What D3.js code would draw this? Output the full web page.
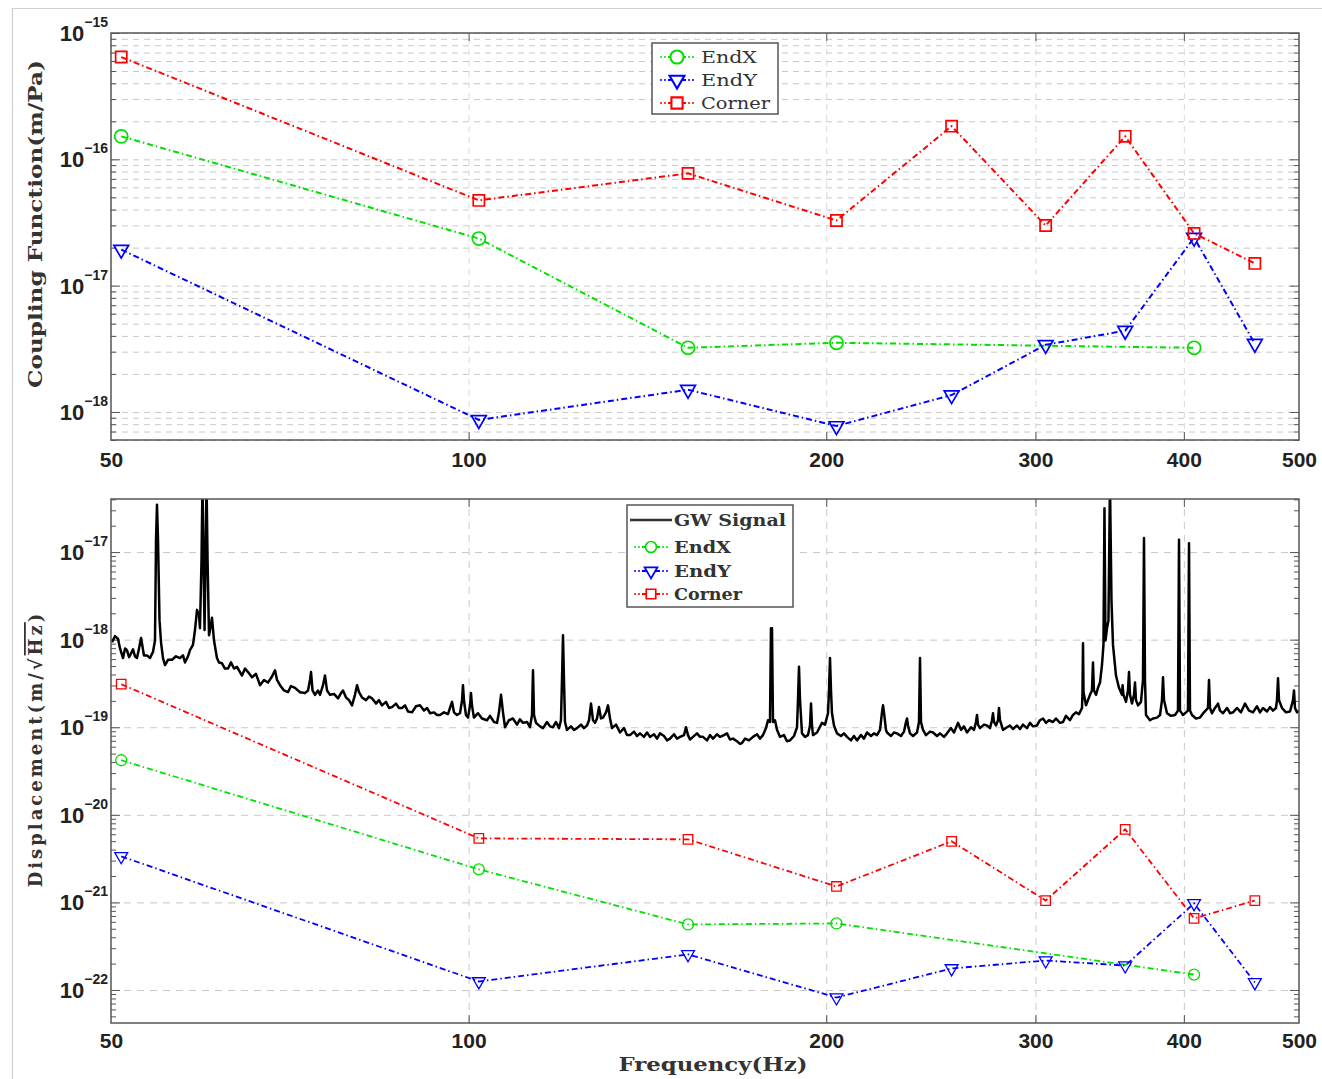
<!DOCTYPE html>
<html lang="en">
<head>
<meta charset="utf-8">
<title>Coupling function and displacement</title>
<style>
    body { margin: 0; background: #fff; }
    .frame { fill: none; stroke: #555; stroke-width: 1.5; }
    .grid line { stroke: #c8c8c8; stroke-width: 1; stroke-dasharray: 6,5; }
    .grid path, .ticks path { display: none; }
    .ticks line { stroke: #555; stroke-width: 1; }
    .xlab text { font: bold 21px "Liberation Sans", Arial, sans-serif; fill: #222; }
    .ylab { font-family: "Liberation Sans", Arial, sans-serif; font-weight: bold; fill: #222; }
    .title { font-family: "DejaVu Serif", serif; font-weight: bold; font-size: 18px; fill: #333; }
    .legend text { font-family: "DejaVu Serif", serif; font-size: 16px; fill: #333; }
</style>
</head>
<body>
<div id="chart"></div>
<script src="https://d3js.org/d3.v7.min.js"></script>
<script>
// measured frequencies (Hz) of the injections
var freqs = [51, 102, 153, 204, 255, 306, 357, 408, 459];
var endXFreqs = [51, 102, 153, 204, 408];

// coupling function (m/Pa)
var couplingEndX = [1.52e-16, 2.36e-17, 3.22e-18, 3.53e-18, 3.22e-18];
var couplingEndY = [1.93e-17, 8.65e-19, 1.50e-18, 7.74e-19, 1.36e-18, 3.40e-18, 4.40e-18, 2.40e-17, 3.47e-18];
var couplingCorner = [6.45e-16, 4.73e-17, 7.74e-17, 3.28e-17, 1.83e-16, 2.99e-17, 1.52e-16, 2.59e-17, 1.50e-17];

// displacement (m/sqrt(Hz))
var dispEndX = [4.2e-20, 2.38e-21, 5.6e-22, 5.75e-22, 1.5e-22];
var dispEndY = [3.36e-21, 1.25e-22, 2.55e-22, 8.2e-23, 1.76e-22, 2.17e-22, 1.9e-22, 9.75e-22, 1.22e-22];
var dispCorner = [3.1e-19, 5.38e-21, 5.25e-21, 1.52e-21, 4.98e-21, 1.05e-21, 6.83e-21, 6.56e-22, 1.05e-21];

// GW signal: [Hz, log10 amplitude]
var gwSignal = [
[50.1,-18.03],[50.39,-17.96],[50.68,-17.99],[50.88,-18.1],[51.18,-18.21],[51.38,-18.1],[51.57,-18.12],[51.78,-18.2],
[51.88,-18.18],[52.18,-18.11],[52.38,-18.19],[52.58,-18.21],[52.79,-18.1],[53.0,-17.98],[53.3,-18.18],[53.61,-18.18],
[53.93,-18.21],[54.24,-18.14],[54.45,-18.01],[54.56,-16.86],[54.66,-16.46],[54.77,-16.86],[54.93,-17.78],[55.09,-18.03],
[55.3,-18.21],[55.52,-18.29],[55.84,-18.23],[56.28,-18.23],[56.71,-18.19],[57.15,-18.21],[57.49,-18.18],[57.71,-18.26],
[58.05,-18.19],[58.27,-18.12],[58.61,-18.06],[58.84,-17.89],[59.07,-17.66],[59.3,-17.72],[59.41,-17.87],[59.59,-17.09],
[59.7,-16.2],[59.82,-17.09],[59.94,-17.89],[60.05,-17.09],[60.17,-16.2],[60.29,-17.09],[60.46,-17.95],[60.58,-17.89],
[60.81,-17.75],[61.05,-18.01],[61.4,-18.21],[61.64,-18.26],[62.0,-18.27],[62.36,-18.33],[62.73,-18.33],[63.1,-18.26],
[63.46,-18.33],[63.83,-18.31],[64.2,-18.37],[64.45,-18.41],[64.83,-18.33],[65.21,-18.37],[65.71,-18.43],[66.22,-18.39],
[66.74,-18.52],[67.26,-18.46],[67.78,-18.49],[68.31,-18.42],[68.71,-18.35],[68.98,-18.46],[69.38,-18.52],[69.92,-18.58],
[70.46,-18.6],[70.87,-18.53],[71.43,-18.55],[72.12,-18.6],[72.82,-18.61],[73.25,-18.58],[73.53,-18.46],[73.68,-18.37],
[73.89,-18.58],[74.25,-18.63],[74.68,-18.58],[74.97,-18.63],[75.41,-18.52],[75.7,-18.41],[76.0,-18.58],[76.44,-18.63],
[77.03,-18.62],[77.64,-18.67],[78.09,-18.61],[78.39,-18.58],[78.85,-18.66],[79.31,-18.69],[79.77,-18.75],[80.23,-18.63],
[80.55,-18.52],[80.86,-18.6],[81.33,-18.66],[81.96,-18.69],[82.44,-18.65],[82.92,-18.67],[83.57,-18.73],[84.05,-18.69],
[84.54,-18.75],[85.2,-18.71],[85.7,-18.78],[86.2,-18.77],[86.87,-18.73],[87.37,-18.78],[87.89,-18.78],[88.4,-18.75],
[88.91,-18.82],[89.6,-18.83],[90.3,-18.76],[91.0,-18.75],[91.71,-18.81],[92.25,-18.78],[92.79,-18.84],[93.51,-18.83],
[94.05,-18.86],[94.6,-18.86],[95.34,-18.83],[96.08,-18.85],[96.45,-18.78],[96.83,-18.71],[97.2,-18.83],[97.77,-18.86],
[98.34,-18.84],[98.72,-18.7],[98.91,-18.52],[99.11,-18.7],[99.49,-18.86],[99.88,-18.89],[100.27,-18.75],[100.46,-18.61],
[100.65,-18.75],[101.04,-18.89],[101.84,-18.84],[102.62,-18.9],[103.63,-18.92],[104.23,-18.87],[105.04,-18.94],[105.66,-18.95],
[106.06,-18.83],[106.48,-18.63],[106.89,-18.83],[107.31,-19.0],[108.14,-18.92],[108.98,-18.9],[109.83,-18.97],[110.46,-18.91],
[111.12,-18.95],[111.98,-18.94],[112.63,-19.0],[113.07,-18.86],[113.29,-18.35],[113.51,-18.86],[113.95,-18.95],[114.84,-18.99],
[115.51,-19.01],[116.41,-18.94],[117.09,-18.99],[117.77,-19.0],[118.45,-18.94],[119.15,-19.01],[119.6,-18.92],[119.84,-18.46],
[120.07,-17.95],[120.3,-18.46],[120.54,-18.94],[121.0,-19.03],[121.95,-18.99],[122.66,-19.03],[123.37,-19.01],[124.34,-18.97],
[125.06,-19.01],[125.79,-18.98],[126.28,-18.92],[126.77,-18.73],[127.26,-18.92],[127.75,-18.95],[128.25,-18.9],[128.75,-18.77],
[129.25,-18.9],[129.75,-18.89],[130.51,-18.83],[131.02,-18.75],[131.53,-18.9],[132.04,-19.01],[133.07,-18.97],[134.1,-19.06],
[135.14,-19.01],[135.93,-19.09],[136.72,-19.09],[137.79,-19.05],[138.59,-19.1],[139.4,-19.07],[140.48,-19.11],[141.3,-19.06],
[142.13,-19.11],[143.23,-19.08],[144.07,-19.13],[144.91,-19.07],[146.03,-19.1],[146.89,-19.15],[147.74,-19.13],[148.9,-19.08],
[149.76,-19.13],[150.64,-19.11],[151.81,-19.09],[152.4,-19.0],[152.99,-19.09],[153.58,-19.14],[154.48,-19.11],[155.68,-19.07],
[156.59,-19.11],[157.5,-19.11],[158.73,-19.15],[159.65,-19.09],[160.59,-19.13],[161.83,-19.08],[162.77,-19.11],[164.04,-19.09],
[165.0,-19.07],[165.96,-19.14],[166.93,-19.13],[168.22,-19.16],[169.21,-19.19],[169.86,-19.18],[170.86,-19.13],[172.19,-19.15],
[173.52,-19.11],[174.88,-19.08],[175.9,-19.13],[176.92,-19.09],[177.95,-19.01],[178.65,-18.92],[179.34,-18.94],[179.68,-17.87],
[180.04,-17.87],[180.38,-18.94],[181.09,-18.92],[181.79,-19.03],[182.85,-19.11],[184.27,-19.09],[185.34,-19.16],[186.43,-19.15],
[187.88,-19.1],[188.98,-19.0],[189.34,-18.69],[189.71,-18.31],[190.08,-18.69],[190.82,-19.07],[191.93,-19.11],[193.05,-19.09],
[193.8,-18.98],[194.18,-18.73],[194.55,-18.98],[194.93,-19.09],[196.45,-19.06],[198.36,-18.95],[199.52,-18.97],[200.68,-18.84],
[201.07,-18.58],[201.46,-18.21],[201.85,-18.58],[202.24,-18.84],[203.03,-18.98],[204.21,-19.07],[205.8,-19.1],[207.0,-19.07],
[208.21,-19.11],[209.83,-19.15],[211.05,-19.1],[212.28,-19.15],[213.93,-19.09],[215.18,-19.13],[216.44,-19.06],[218.12,-19.1],
[219.39,-19.07],[220.67,-19.09],[221.96,-19.03],[222.82,-18.83],[223.26,-18.75],[223.68,-18.83],[224.55,-19.03],[225.0,-19.06],
[226.74,-19.1],[228.07,-19.06],[229.4,-19.07],[231.18,-19.1],[232.53,-19.05],[233.43,-18.94],[233.88,-18.9],[234.34,-18.98],
[235.25,-19.07],[236.62,-19.1],[238.46,-19.06],[239.39,-18.94],[239.85,-18.21],[240.32,-18.94],[241.25,-19.03],[242.66,-19.09],
[244.55,-19.05],[245.97,-19.06],[247.89,-19.1],[249.33,-19.07],[251.27,-19.11],[252.74,-19.07],[254.7,-19.01],[256.19,-19.06],
[258.19,-18.95],[259.69,-19.03],[261.2,-18.99],[262.73,-19.06],[264.77,-19.0],[266.31,-19.03],[267.35,-18.94],[267.87,-18.86],
[268.39,-18.97],[269.43,-19.01],[271.53,-18.97],[273.11,-18.98],[274.7,-19.01],[275.77,-18.92],[276.3,-18.84],[276.84,-18.94],
[277.92,-18.98],[278.99,-18.92],[279.54,-18.78],[280.07,-18.92],[281.72,-19.03],[283.9,-19.0],[285.56,-18.98],[287.22,-19.02],
[289.46,-18.98],[291.14,-19.02],[292.84,-18.97],[295.13,-19.01],[296.84,-18.95],[298.57,-18.99],[300.91,-18.98],[302.65,-18.92],
[304.43,-18.9],[306.19,-18.95],[307.97,-18.92],[310.38,-18.94],[312.18,-18.9],[314.61,-18.95],[316.46,-18.94],[318.29,-18.87],
[320.76,-18.92],[322.65,-18.86],[324.51,-18.83],[326.41,-18.85],[328.33,-18.78],[328.65,-18.6],[328.97,-18.04],[329.3,-18.6],
[330.89,-18.75],[332.15,-18.69],[333.46,-18.63],[334.73,-18.58],[335.4,-18.26],[336.03,-18.58],[337.36,-18.63],[338.65,-18.55],
[339.99,-18.49],[341.28,-18.29],[342.28,-18.06],[342.94,-16.5],[343.61,-18.01],[344.63,-17.87],[345.61,-17.78],[346.62,-16.2],
[347.63,-17.55],[348.66,-18.06],[350.69,-18.41],[352.72,-18.55],[354.8,-18.63],[355.2,-18.52],[355.81,-18.63],[357.56,-18.71],
[358.93,-18.58],[359.64,-18.37],[360.33,-18.63],[361.74,-18.73],[363.13,-18.63],[363.85,-18.49],[364.54,-18.69],[365.97,-18.75],
[368.09,-18.71],[369.52,-18.46],[370.25,-16.84],[370.96,-18.46],[371.69,-18.86],[374.57,-18.92],[376.77,-18.9],[379.69,-18.89],
[381.92,-18.86],[383.39,-18.69],[384.15,-18.43],[384.88,-18.69],[387.14,-18.84],[390.13,-18.87],[393.19,-18.86],[395.46,-18.81],
[396.25,-16.86],[397.0,-18.81],[399.33,-18.86],[401.64,-18.83],[403.2,-18.81],[404.0,-16.9],[404.77,-18.81],[406.36,-18.86],
[409.5,-18.9],[412.71,-18.89],[415.9,-18.83],[419.14,-18.78],[419.97,-18.46],[420.77,-18.78],[422.42,-18.84],[424.87,-18.78],
[427.36,-18.73],[429.0,-18.81],[431.53,-18.84],[434.86,-18.78],[437.4,-18.84],[439.97,-18.83],[443.37,-18.78],[446.82,-18.83],
[450.32,-18.73],[453.8,-18.81],[457.36,-18.83],[460.9,-18.76],[463.59,-18.83],[466.31,-18.78],[469.92,-18.82],[472.66,-18.77],
[475.44,-18.81],[478.18,-18.78],[479.12,-18.69],[480.07,-18.44],[480.98,-18.69],[483.8,-18.78],[487.55,-18.83],[491.36,-18.82],
[494.21,-18.69],[495.19,-18.58],[496.13,-18.78],[498.08,-18.83],[500,-18.81]
];

var xTickValues = [50, 100, 200, 300, 400, 500];
var xGridValues = [100, 200, 300, 400];

var W = 1188;
var dash = "6,3,1.5,3";
var svg = d3.select("#chart").append("svg")
    .attr("width", 1322)
    .attr("height", 1079);

// border of the source page
svg.append("line").attr("x1", 12.5).attr("x2", 12.5).attr("y1", 8).attr("y2", 1079)
    .attr("stroke", "#cfcfcf").attr("stroke-width", 1.2);
svg.append("line").attr("x1", 12).attr("x2", 1322).attr("y1", 8.5).attr("y2", 8.5)
    .attr("stroke", "#cfcfcf").attr("stroke-width", 1.2);

var x = d3.scaleLog().domain([50, 500]).range([0, W]);

function minorValues(lo, hi) {
    var out = [];
    for (var e = lo; e <= hi; e++) {
        for (var k = 2; k <= 9; k++) out.push(k * Math.pow(10, e));
    }
    return out;
}

function makeMarker(shape, size) {
    if (shape === "circle") return d3.symbol().type(d3.symbolCircle).size(size)();
    if (shape === "square") return d3.symbol().type(d3.symbolSquare).size(size)();
    return d3.symbol().type(d3.symbolTriangle).size(size)();
}

function drawPanel(cfg) {
    var h = cfg.height;
    var g = svg.append("g").attr("transform", "translate(111," + cfg.top + ")");
    var y = d3.scaleLog().domain(cfg.yDomain).range([h, 0]);
    var majors = cfg.decades.map(function(e) { return Math.pow(10, e); });
    var minors = minorValues(cfg.decades[0] - 1, cfg.decades[cfg.decades.length - 1])
        .filter(function(v) { return v > cfg.yDomain[0] && v < cfg.yDomain[1]; });

    g.append("defs").append("clipPath").attr("id", "clip" + cfg.id)
        .append("rect").attr("width", W).attr("height", h);

    // grid
    g.append("g").attr("class", "grid")
        .call(d3.axisLeft(y).tickValues(cfg.denseGrid ? majors.concat(minors) : majors)
            .tickSize(-W).tickFormat(""));
    g.append("g").attr("class", "grid vgrid")
        .attr("transform", "translate(0," + h + ")")
        .call(d3.axisBottom(x).tickValues(xGridValues).tickSize(-h).tickFormat(""));
    if (cfg.id === "b") g.selectAll(".grid line").style("stroke-dasharray", "7,6");
    else g.selectAll(".vgrid line").style("stroke", "#dadada");

    // ticks on all four sides
    g.append("g").attr("class", "ticks").call(d3.axisLeft(y).tickValues(majors).tickSize(-9).tickFormat(""));
    g.append("g").attr("class", "ticks").call(d3.axisLeft(y).tickValues(minors).tickSize(-5).tickFormat(""));
    g.append("g").attr("class", "ticks").attr("transform", "translate(" + W + ",0)")
        .call(d3.axisRight(y).tickValues(majors).tickSize(-9).tickFormat(""));
    g.append("g").attr("class", "ticks").attr("transform", "translate(" + W + ",0)")
        .call(d3.axisRight(y).tickValues(minors).tickSize(-5).tickFormat(""));
    g.append("g").attr("class", "ticks").call(d3.axisTop(x).tickValues(xGridValues).tickSize(-8).tickFormat(""));
    g.append("g").attr("class", "ticks").attr("transform", "translate(0," + h + ")")
        .call(d3.axisBottom(x).tickValues(xGridValues).tickSize(-8).tickFormat(""));

    // x tick labels
    var xl = g.append("g").attr("class", "xlab").attr("transform", "translate(0," + h + ")")
        .call(d3.axisBottom(x).tickValues(xTickValues).tickSize(0).tickPadding(cfg.xPad).tickFormat(d3.format("d")));
    xl.select(".domain").remove();
    xl.selectAll("text").attr("fill", "#222");

    // y tick labels: 10 with superscript exponent
    cfg.decades.forEach(function(e) {
        var t = g.append("text").attr("class", "ylab")
            .attr("text-anchor", "end")
            .attr("x", -3)
            .attr("y", y(Math.pow(10, e)) + 8);
        t.append("tspan").style("font-size", "22px").text("10");
        t.append("tspan").style("font-size", "14px").attr("dy", -14).text("\u2212" + (-e));
    });

    var plot = g.append("g").attr("clip-path", "url(#clip" + cfg.id + ")");

    if (cfg.gw) {
        plot.append("path").datum(cfg.gw)
            .attr("fill", "none").attr("stroke", "#000").attr("stroke-width", 2.5)
            .attr("stroke-linejoin", "round")
            .attr("d", d3.line()
                .x(function(d) { return x(d[0]); })
                .y(function(d) { return y(Math.pow(10, d[1])); }));
    }

    cfg.series.forEach(function(s) {
        var pts = s.f.map(function(f, i) { return [f, s.v[i]]; });
        plot.append("path").datum(pts)
            .attr("fill", "none").attr("stroke", s.color).attr("stroke-width", cfg.lineWidth)
            .attr("stroke-dasharray", dash)
            .attr("d", d3.line().x(function(d) { return x(d[0]); }).y(function(d) { return y(d[1]); }));
        g.selectAll(null).data(pts).enter().append("path")
            .attr("d", makeMarker(s.shape, cfg.markerSize[s.shape]))
            .attr("transform", function(d) {
                return "translate(" + x(d[0]) + "," + y(d[1]) + ")" + (s.shape === "triangle" ? " rotate(180)" : "");
            })
            .attr("fill", "none").attr("stroke", s.color).attr("stroke-width", cfg.markerStroke);
    });

    g.append("rect").attr("class", "frame").attr("width", W).attr("height", h);

    // legend
    var lg = svg.append("g").attr("class", "legend");
    var L = cfg.legend;
    lg.append("rect").attr("x", L.x).attr("y", L.y).attr("width", L.w).attr("height", L.h)
        .attr("fill", "#fff").attr("stroke", "#555").attr("stroke-width", 1.5);
    L.items.forEach(function(it) {
        if (it.gw) {
            lg.append("line").attr("x1", L.lx1 - 4).attr("x2", L.lx2 + 4).attr("y1", it.y).attr("y2", it.y)
                .attr("stroke", "#333").attr("stroke-width", 2.5);
        } else {
            lg.append("line").attr("x1", L.lx1).attr("x2", L.lx2).attr("y1", it.y).attr("y2", it.y)
                .attr("stroke", it.color).attr("stroke-width", 1.6).attr("stroke-dasharray", "2,2");
            lg.append("line").attr("x1", (L.lx1 + L.lx2) / 2 - 9).attr("x2", (L.lx1 + L.lx2) / 2 + 9)
                .attr("y1", it.y).attr("y2", it.y)
                .attr("stroke", it.color).attr("stroke-width", 2);
            lg.append("path").attr("d", makeMarker(it.shape, cfg.markerSize[it.shape]))
                .attr("transform", "translate(" + ((L.lx1 + L.lx2) / 2) + "," + it.y + ")" + (it.shape === "triangle" ? " rotate(180)" : ""))
                .attr("fill", "#fff").attr("stroke", it.color).attr("stroke-width", cfg.markerStroke + 0.4);
        }
        lg.append("text").attr("x", L.tx).attr("y", it.y + 6)
            .attr("textLength", it.len).attr("lengthAdjust", "spacingAndGlyphs")
            .style("font-weight", L.bold ? "bold" : "normal")
            .text(it.label);
    });
}

drawPanel({
    id: "a", top: 33, height: 407,
    yDomain: [Math.pow(10, -18.222), 1e-15],
    decades: [-18, -17, -16, -15],
    denseGrid: true, xPad: 12, lineWidth: 2,
    markerSize: { circle: 135, square: 125, triangle: 95 }, markerStroke: 1.7,
    series: [
        { f: endXFreqs, v: couplingEndX, color: "#00e000", shape: "circle" },
        { f: freqs, v: couplingEndY, color: "#0000ff", shape: "triangle" },
        { f: freqs, v: couplingCorner, color: "#ff0000", shape: "square" }
    ],
    legend: { x: 652, y: 43, w: 126, h: 71, lx1: 660, lx2: 694, tx: 701, bold: false,
        items: [
            { y: 57, label: "EndX", color: "#00e000", shape: "circle", len: 56 },
            { y: 80, label: "EndY", color: "#0000ff", shape: "triangle", len: 56 },
            { y: 103, label: "Corner", color: "#ff0000", shape: "square", len: 69 }
        ] }
});

drawPanel({
    id: "b", top: 499, height: 524,
    yDomain: [Math.pow(10, -22.377), Math.pow(10, -16.394)],
    decades: [-22, -21, -20, -19, -18, -17],
    denseGrid: false, xPad: 10, gw: gwSignal, lineWidth: 1.8,
    markerSize: { circle: 95, square: 90, triangle: 72 }, markerStroke: 1.3,
    series: [
        { f: endXFreqs, v: dispEndX, color: "#00e000", shape: "circle" },
        { f: freqs, v: dispEndY, color: "#0000ff", shape: "triangle" },
        { f: freqs, v: dispCorner, color: "#ff0000", shape: "square" }
    ],
    legend: { x: 627, y: 505, w: 166, h: 102, lx1: 634, lx2: 668, tx: 674, bold: true,
        items: [
            { y: 520, label: "GW Signal", gw: true, len: 112 },
            { y: 547, label: "EndX", color: "#00e000", shape: "circle", len: 57 },
            { y: 571, label: "EndY", color: "#0000ff", shape: "triangle", len: 57 },
            { y: 594, label: "Corner", color: "#ff0000", shape: "square", len: 68 }
        ] }
});

// axis titles
svg.append("text").attr("class", "title")
    .attr("transform", "translate(42,224) rotate(-90)")
    .attr("text-anchor", "middle")
    .attr("textLength", 328).attr("lengthAdjust", "spacingAndGlyphs")
    .text("Coupling Function(m/Pa)");

var dl = svg.append("text").attr("class", "title")
    .attr("transform", "translate(42,749) rotate(-90)")
    .attr("text-anchor", "middle")
    .style("letter-spacing", "3px");
dl.append("tspan").text("Displacement(m/\u221A");
dl.append("tspan").style("text-decoration", "overline").text("Hz");
dl.append("tspan").text(")");

svg.append("text").attr("class", "title")
    .attr("x", 713).attr("y", 1071)
    .attr("text-anchor", "middle")
    .attr("textLength", 189).attr("lengthAdjust", "spacingAndGlyphs")
    .text("Frequency(Hz)");
</script>
</body>
</html>
